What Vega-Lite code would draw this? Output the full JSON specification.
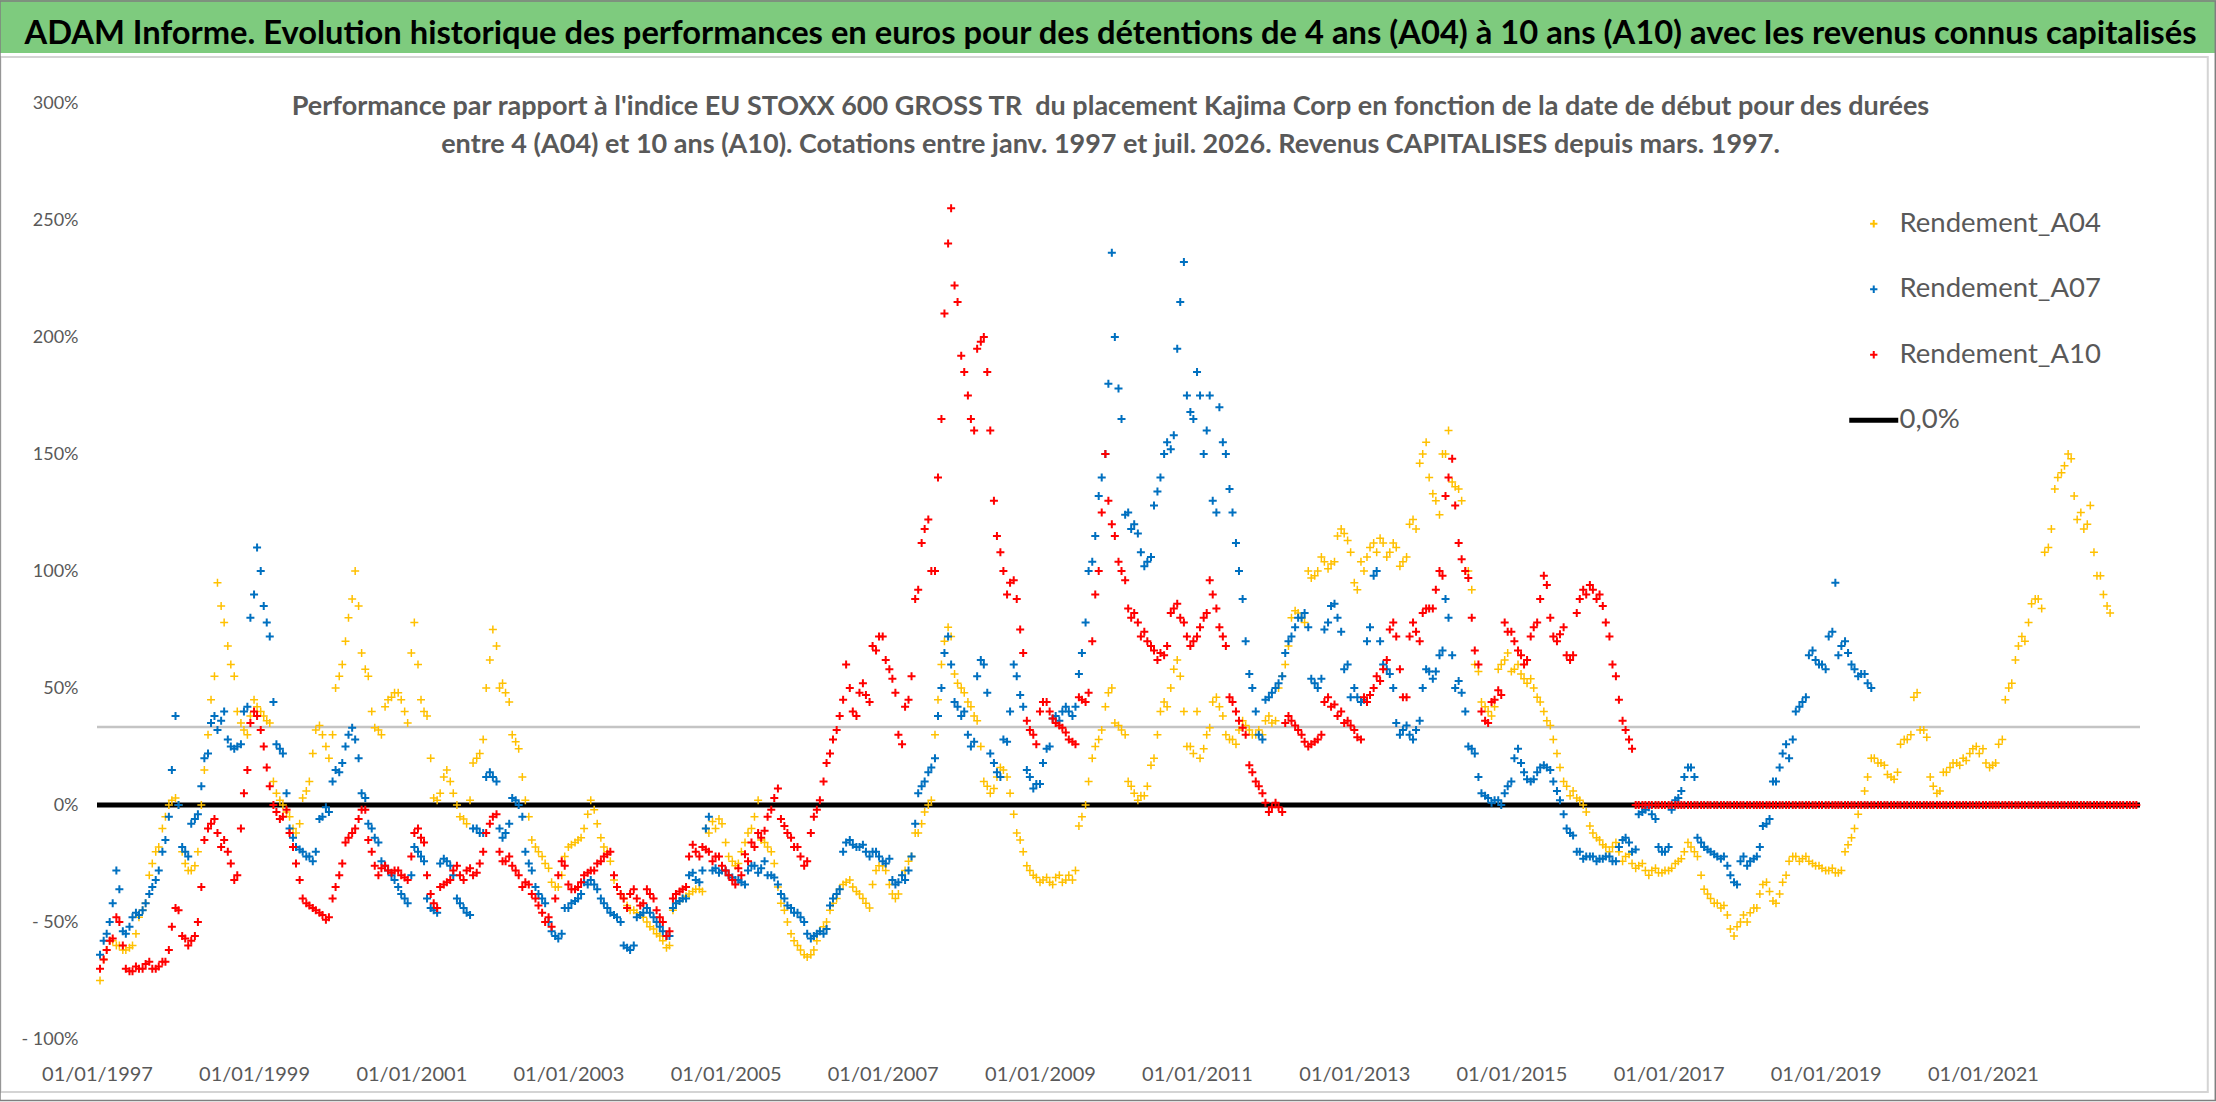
{
  "$schema": "https://vega.github.io/schema/vega-lite/v6.json",
  "width": 2043,
  "height": 936,
  "autosize": "none",
  "padding": {"left": 97, "top": 103, "right": 76, "bottom": 63},
  "background": "white",
  "config": {
    "view": {"stroke": null},
    "axis": {
      "labelFont": "Lato",
      "labelColor": "#595959",
      "gridColor": "#d9d9d9",
      "gridWidth": 1.5,
      "domain": false,
      "ticks": false,
      "title": null
    }
  },
  "title": {
    "text": "ADAM Informe. Evolution historique des performances en euros pour des détentions de 4 ans (A04) à 10 ans (A10) avec les revenus connus capitalisés",
    "subtitle": [
      "Performance par rapport à l'indice EU STOXX 600 GROSS TR \u00a0du placement Kajima Corp en fonction de la date de début pour des durées",
      "entre 4 (A04) et 10 ans (A10). Cotations entre janv. 1997 et juil. 2026. Revenus CAPITALISES depuis mars. 1997."
    ],
    "anchor": "middle",
    "frame": "group",
    "font": "Lato",
    "fontSize": 32.7,
    "fontWeight": "bold",
    "color": "#000000",
    "subtitleFont": "Lato",
    "subtitleFontSize": 27,
    "subtitleFontWeight": "bold",
    "subtitleColor": "#595959",
    "subtitleLineHeight": 38,
    "subtitlePadding": 43,
    "offset": -158,
    "dx": -8
  },
  "layer": [
    {
      "data": {"values": [{}]},
      "mark": {"type": "rule", "color": "#c4c4c4", "strokeWidth": 2.5},
      "encoding": {"y": {"datum": 33.3}}
    },
    {
      "data": {"values": [{}]},
      "mark": {"type": "rect", "color": "white"},
      "encoding": {
        "x": {"datum": {"year": 1999, "month": 6, "date": 5, "utc": true}},
        "x2": {"datum": {"year": 2020, "month": 3, "date": 10, "utc": true}},
        "y": {"datum": 271.5},
        "y2": {"datum": 303}
      }
    },
    {
      "data": {"values": [{}]},
      "mark": {"type": "rect", "color": "white"},
      "encoding": {
        "x": {"datum": {"year": 2018, "month": 10, "date": 6, "utc": true}},
        "x2": {"datum": {"year": 2023, "month": 1, "date": 6, "utc": true}},
        "y": {"datum": 151.3},
        "y2": {"datum": 262.4}
      }
    },
    {
      "data": {"values": [{}]},
      "mark": {"type": "rule", "color": "#000000", "strokeWidth": 5},
      "encoding": {"y": {"datum": 0}}
    },
    {
      "data": {
        "values": [
          {"d": "1997-01-15", "a04": -75, "a07": -64, "a10": -70},
          {"d": "1997-02-15", "a04": -62, "a07": -55, "a10": -62},
          {"d": "1997-03-15", "a04": -58, "a07": -42, "a10": -57},
          {"d": "1997-04-15", "a04": -60, "a07": -36, "a10": -50},
          {"d": "1997-05-15", "a04": -62, "a07": -55, "a10": -70},
          {"d": "1997-06-15", "a04": -60, "a07": -48, "a10": -71},
          {"d": "1997-07-15", "a04": -48, "a07": -47, "a10": -70},
          {"d": "1997-08-15", "a04": -42, "a07": -42, "a10": -68},
          {"d": "1997-09-15", "a04": -25, "a07": -35, "a10": -70},
          {"d": "1997-10-15", "a04": -18, "a07": -28, "a10": -69},
          {"d": "1997-11-15", "a04": -5, "a07": -15, "a10": -67},
          {"d": "1997-12-15", "a04": 2, "a07": 15, "a10": -52},
          {"d": "1998-01-15", "a04": 0, "a07": 0, "a10": -45},
          {"d": "1998-02-15", "a04": -25, "a07": -20, "a10": -57},
          {"d": "1998-03-15", "a04": -28, "a07": -8, "a10": -58},
          {"d": "1998-04-15", "a04": -20, "a07": -4, "a10": -50},
          {"d": "1998-05-15", "a04": 15, "a07": 20, "a10": -15},
          {"d": "1998-06-15", "a04": 45, "a07": 35, "a10": -8},
          {"d": "1998-07-15", "a04": 95, "a07": 32, "a10": -12},
          {"d": "1998-08-15", "a04": 78, "a07": 40, "a10": -15},
          {"d": "1998-09-15", "a04": 60, "a07": 25, "a10": -25},
          {"d": "1998-10-15", "a04": 40, "a07": 25, "a10": -30},
          {"d": "1998-11-15", "a04": 32, "a07": 40, "a10": 5},
          {"d": "1998-12-15", "a04": 38, "a07": 80, "a10": 35},
          {"d": "1999-01-15", "a04": 42, "a07": 110, "a10": 38},
          {"d": "1999-02-15", "a04": 38, "a07": 85, "a10": 25},
          {"d": "1999-03-15", "a04": 35, "a07": 72, "a10": 8},
          {"d": "1999-04-15", "a04": 5, "a07": 26, "a10": -3},
          {"d": "1999-05-15", "a04": 0, "a07": 22, "a10": -5},
          {"d": "1999-06-15", "a04": -5, "a07": -10, "a10": -12},
          {"d": "1999-07-15", "a04": -12, "a07": -18, "a10": -25},
          {"d": "1999-08-15", "a04": 3, "a07": -20, "a10": -40},
          {"d": "1999-09-15", "a04": 10, "a07": -22, "a10": -43},
          {"d": "1999-10-15", "a04": 32, "a07": -20, "a10": -45},
          {"d": "1999-11-15", "a04": 30, "a07": -5, "a10": -47},
          {"d": "1999-12-15", "a04": 20, "a07": -3, "a10": -48},
          {"d": "2000-01-15", "a04": 50, "a07": 15, "a10": -35},
          {"d": "2000-02-15", "a04": 60, "a07": 18, "a10": -25},
          {"d": "2000-03-15", "a04": 80, "a07": 30, "a10": -14},
          {"d": "2000-04-15", "a04": 100, "a07": 28, "a10": -10},
          {"d": "2000-05-15", "a04": 65, "a07": 5, "a10": -2},
          {"d": "2000-06-15", "a04": 55, "a07": -8, "a10": -15},
          {"d": "2000-07-15", "a04": 33, "a07": -14, "a10": -26},
          {"d": "2000-08-15", "a04": 30, "a07": -24, "a10": -27},
          {"d": "2000-09-15", "a04": 45, "a07": -28, "a10": -28},
          {"d": "2000-10-15", "a04": 48, "a07": -32, "a10": -28},
          {"d": "2000-11-15", "a04": 45, "a07": -38, "a10": -30},
          {"d": "2000-12-15", "a04": 35, "a07": -42, "a10": -32},
          {"d": "2001-01-15", "a04": 78, "a07": -18, "a10": -12},
          {"d": "2001-02-15", "a04": 45, "a07": -22, "a10": -14},
          {"d": "2001-03-15", "a04": 38, "a07": -40, "a10": -30},
          {"d": "2001-04-15", "a04": 3, "a07": -45, "a10": -42},
          {"d": "2001-05-15", "a04": 5, "a07": -25, "a10": -35},
          {"d": "2001-06-15", "a04": 15, "a07": -24, "a10": -33},
          {"d": "2001-07-15", "a04": 5, "a07": -30, "a10": -28},
          {"d": "2001-08-15", "a04": -5, "a07": -42, "a10": -30},
          {"d": "2001-09-15", "a04": -8, "a07": -46, "a10": -28},
          {"d": "2001-10-15", "a04": 18, "a07": -10, "a10": -30},
          {"d": "2001-11-15", "a04": 22, "a07": -12, "a10": -25},
          {"d": "2001-12-15", "a04": 50, "a07": 12, "a10": -12},
          {"d": "2002-01-15", "a04": 75, "a07": 12, "a10": -5},
          {"d": "2002-02-15", "a04": 50, "a07": -10, "a10": -20},
          {"d": "2002-03-15", "a04": 48, "a07": -12, "a10": -24},
          {"d": "2002-04-15", "a04": 30, "a07": 3, "a10": -26},
          {"d": "2002-05-15", "a04": 24, "a07": 0, "a10": -30},
          {"d": "2002-06-15", "a04": 2, "a07": -20, "a10": -33},
          {"d": "2002-07-15", "a04": -15, "a07": -28, "a10": -38},
          {"d": "2002-08-15", "a04": -20, "a07": -38, "a10": -43},
          {"d": "2002-09-15", "a04": -25, "a07": -42, "a10": -50},
          {"d": "2002-10-15", "a04": -33, "a07": -54, "a10": -52},
          {"d": "2002-11-15", "a04": -35, "a07": -57, "a10": -30},
          {"d": "2002-12-15", "a04": -22, "a07": -44, "a10": -26},
          {"d": "2003-01-15", "a04": -17, "a07": -42, "a10": -36},
          {"d": "2003-02-15", "a04": -15, "a07": -40, "a10": -35},
          {"d": "2003-03-15", "a04": -10, "a07": -33, "a10": -30},
          {"d": "2003-04-15", "a04": 2, "a07": -32, "a10": -28},
          {"d": "2003-05-15", "a04": -8, "a07": -36, "a10": -25},
          {"d": "2003-06-15", "a04": -18, "a07": -42, "a10": -22},
          {"d": "2003-07-15", "a04": -24, "a07": -46, "a10": -20},
          {"d": "2003-08-15", "a04": -35, "a07": -48, "a10": -35},
          {"d": "2003-09-15", "a04": -40, "a07": -60, "a10": -40},
          {"d": "2003-10-15", "a04": -45, "a07": -62, "a10": -38},
          {"d": "2003-11-15", "a04": -46, "a07": -48, "a10": -40},
          {"d": "2003-12-15", "a04": -48, "a07": -46, "a10": -42},
          {"d": "2004-01-15", "a04": -52, "a07": -46, "a10": -38},
          {"d": "2004-02-15", "a04": -55, "a07": -50, "a10": -45},
          {"d": "2004-03-15", "a04": -58, "a07": -54, "a10": -50},
          {"d": "2004-04-15", "a04": -60, "a07": -56, "a10": -54},
          {"d": "2004-05-15", "a04": -42, "a07": -42, "a10": -38},
          {"d": "2004-06-15", "a04": -40, "a07": -40, "a10": -36},
          {"d": "2004-07-15", "a04": -38, "a07": -30, "a10": -22},
          {"d": "2004-08-15", "a04": -36, "a07": -32, "a10": -20},
          {"d": "2004-09-15", "a04": -37, "a07": -28, "a10": -18},
          {"d": "2004-10-15", "a04": -12, "a07": -5, "a10": -20},
          {"d": "2004-11-15", "a04": -10, "a07": -27, "a10": -22},
          {"d": "2004-12-15", "a04": -8, "a07": -28, "a10": -26},
          {"d": "2005-01-15", "a04": -22, "a07": -30, "a10": -30},
          {"d": "2005-02-15", "a04": -26, "a07": -32, "a10": -34},
          {"d": "2005-03-15", "a04": -20, "a07": -33, "a10": -30},
          {"d": "2005-04-15", "a04": -12, "a07": -28, "a10": -24},
          {"d": "2005-05-15", "a04": -5, "a07": -26, "a10": -18},
          {"d": "2005-06-15", "a04": -15, "a07": -27, "a10": -14},
          {"d": "2005-07-15", "a04": -18, "a07": -30, "a10": -5},
          {"d": "2005-08-15", "a04": -25, "a07": -31, "a10": 3},
          {"d": "2005-09-15", "a04": -42, "a07": -38, "a10": -6},
          {"d": "2005-10-15", "a04": -50, "a07": -43, "a10": -12},
          {"d": "2005-11-15", "a04": -58, "a07": -46, "a10": -18},
          {"d": "2005-12-15", "a04": -62, "a07": -48, "a10": -22},
          {"d": "2006-01-15", "a04": -65, "a07": -55, "a10": -24},
          {"d": "2006-02-15", "a04": -62, "a07": -56, "a10": -5},
          {"d": "2006-03-15", "a04": -54, "a07": -54, "a10": 2},
          {"d": "2006-04-15", "a04": -50, "a07": -53, "a10": 18},
          {"d": "2006-05-15", "a04": -42, "a07": -40, "a10": 28},
          {"d": "2006-06-15", "a04": -36, "a07": -36, "a10": 38},
          {"d": "2006-07-15", "a04": -33, "a07": -16, "a10": 60},
          {"d": "2006-08-15", "a04": -35, "a07": -17, "a10": 40},
          {"d": "2006-09-15", "a04": -38, "a07": -18, "a10": 48},
          {"d": "2006-10-15", "a04": -42, "a07": -20, "a10": 47},
          {"d": "2006-11-15", "a04": -34, "a07": -20, "a10": 68},
          {"d": "2006-12-15", "a04": -26, "a07": -22, "a10": 72},
          {"d": "2007-01-15", "a04": -28, "a07": -25, "a10": 62},
          {"d": "2007-02-15", "a04": -38, "a07": -32, "a10": 54},
          {"d": "2007-03-15", "a04": -38, "a07": -33, "a10": 30},
          {"d": "2007-04-15", "a04": -28, "a07": -32, "a10": 42},
          {"d": "2007-05-15", "a04": -22, "a07": -22, "a10": 55},
          {"d": "2007-06-15", "a04": -12, "a07": 5, "a10": 92},
          {"d": "2007-07-15", "a04": -3, "a07": 10, "a10": 118},
          {"d": "2007-08-15", "a04": 2, "a07": 16, "a10": 100},
          {"d": "2007-09-15", "a04": 45, "a07": 38, "a10": 140},
          {"d": "2007-10-15", "a04": 70, "a07": 65, "a10": 210},
          {"d": "2007-11-15", "a04": 72, "a07": 60, "a10": 255},
          {"d": "2007-12-15", "a04": 52, "a07": 42, "a10": 215},
          {"d": "2008-01-15", "a04": 48, "a07": 40, "a10": 185},
          {"d": "2008-02-15", "a04": 42, "a07": 25, "a10": 165},
          {"d": "2008-03-15", "a04": 36, "a07": 55, "a10": 195},
          {"d": "2008-04-15", "a04": 10, "a07": 60, "a10": 200},
          {"d": "2008-05-15", "a04": 5, "a07": 22, "a10": 160},
          {"d": "2008-06-15", "a04": 12, "a07": 14, "a10": 115},
          {"d": "2008-07-15", "a04": 15, "a07": 28, "a10": 100},
          {"d": "2008-08-15", "a04": 5, "a07": 40, "a10": 95},
          {"d": "2008-09-15", "a04": -12, "a07": 55, "a10": 88},
          {"d": "2008-10-15", "a04": -20, "a07": 42, "a10": 65},
          {"d": "2008-11-15", "a04": -28, "a07": 12, "a10": 32},
          {"d": "2008-12-15", "a04": -31, "a07": 9, "a10": 26},
          {"d": "2009-01-15", "a04": -32, "a07": 18, "a10": 44},
          {"d": "2009-02-15", "a04": -33, "a07": 25, "a10": 40},
          {"d": "2009-03-15", "a04": -31, "a07": 38, "a10": 35},
          {"d": "2009-04-15", "a04": -33, "a07": 40, "a10": 33},
          {"d": "2009-05-15", "a04": -30, "a07": 40, "a10": 28},
          {"d": "2009-06-15", "a04": -28, "a07": 42, "a10": 26},
          {"d": "2009-07-15", "a04": -5, "a07": 65, "a10": 45},
          {"d": "2009-08-15", "a04": 10, "a07": 100, "a10": 48},
          {"d": "2009-09-15", "a04": 25, "a07": 115, "a10": 90},
          {"d": "2009-10-15", "a04": 32, "a07": 140, "a10": 125},
          {"d": "2009-11-15", "a04": 48, "a07": 180, "a10": 130},
          {"d": "2009-12-15", "a04": 35, "a07": 200, "a10": 115},
          {"d": "2010-01-15", "a04": 32, "a07": 165, "a10": 100},
          {"d": "2010-02-15", "a04": 10, "a07": 125, "a10": 84},
          {"d": "2010-03-15", "a04": 5, "a07": 120, "a10": 82},
          {"d": "2010-04-15", "a04": 4, "a07": 108, "a10": 72},
          {"d": "2010-05-15", "a04": 8, "a07": 104, "a10": 70},
          {"d": "2010-06-15", "a04": 20, "a07": 128, "a10": 66},
          {"d": "2010-07-15", "a04": 40, "a07": 140, "a10": 65},
          {"d": "2010-08-15", "a04": 42, "a07": 155, "a10": 68},
          {"d": "2010-09-15", "a04": 58, "a07": 158, "a10": 84},
          {"d": "2010-10-15", "a04": 55, "a07": 215, "a10": 80},
          {"d": "2010-11-15", "a04": 25, "a07": 175, "a10": 72},
          {"d": "2010-12-15", "a04": 22, "a07": 165, "a10": 70},
          {"d": "2011-01-15", "a04": 20, "a07": 175, "a10": 76},
          {"d": "2011-02-15", "a04": 30, "a07": 160, "a10": 82},
          {"d": "2011-03-15", "a04": 44, "a07": 130, "a10": 90},
          {"d": "2011-04-15", "a04": 42, "a07": 170, "a10": 76},
          {"d": "2011-05-15", "a04": 30, "a07": 150, "a10": 68},
          {"d": "2011-06-15", "a04": 28, "a07": 125, "a10": 44},
          {"d": "2011-07-15", "a04": 32, "a07": 100, "a10": 36},
          {"d": "2011-08-15", "a04": 34, "a07": 70, "a10": 30},
          {"d": "2011-09-15", "a04": 30, "a07": 50, "a10": 14},
          {"d": "2011-10-15", "a04": 32, "a07": 30, "a10": 8},
          {"d": "2011-11-15", "a04": 36, "a07": 45, "a10": 1},
          {"d": "2011-12-15", "a04": 35, "a07": 48, "a10": -1},
          {"d": "2012-01-15", "a04": 50, "a07": 52, "a10": -1},
          {"d": "2012-02-15", "a04": 60, "a07": 65, "a10": 35},
          {"d": "2012-03-15", "a04": 80, "a07": 72, "a10": 36},
          {"d": "2012-04-15", "a04": 82, "a07": 80, "a10": 32},
          {"d": "2012-05-15", "a04": 78, "a07": 82, "a10": 27},
          {"d": "2012-06-15", "a04": 97, "a07": 54, "a10": 26},
          {"d": "2012-07-15", "a04": 100, "a07": 50, "a10": 28},
          {"d": "2012-08-15", "a04": 104, "a07": 75, "a10": 44},
          {"d": "2012-09-15", "a04": 103, "a07": 85, "a10": 42},
          {"d": "2012-10-15", "a04": 115, "a07": 80, "a10": 38},
          {"d": "2012-11-15", "a04": 116, "a07": 58, "a10": 35},
          {"d": "2012-12-15", "a04": 108, "a07": 46, "a10": 34},
          {"d": "2013-01-15", "a04": 92, "a07": 46, "a10": 29},
          {"d": "2013-02-15", "a04": 100, "a07": 45, "a10": 46},
          {"d": "2013-03-15", "a04": 110, "a07": 76, "a10": 47},
          {"d": "2013-04-15", "a04": 108, "a07": 100, "a10": 55},
          {"d": "2013-05-15", "a04": 112, "a07": 60, "a10": 58},
          {"d": "2013-06-15", "a04": 108, "a07": 56, "a10": 75},
          {"d": "2013-07-15", "a04": 110, "a07": 35, "a10": 72},
          {"d": "2013-08-15", "a04": 104, "a07": 32, "a10": 46},
          {"d": "2013-09-15", "a04": 120, "a07": 30, "a10": 72},
          {"d": "2013-10-15", "a04": 118, "a07": 32, "a10": 74},
          {"d": "2013-11-15", "a04": 150, "a07": 50, "a10": 82},
          {"d": "2013-12-15", "a04": 140, "a07": 57, "a10": 84},
          {"d": "2014-01-15", "a04": 130, "a07": 57, "a10": 92},
          {"d": "2014-02-15", "a04": 150, "a07": 66, "a10": 98},
          {"d": "2014-03-15", "a04": 160, "a07": 80, "a10": 140},
          {"d": "2014-04-15", "a04": 136, "a07": 50, "a10": 128},
          {"d": "2014-05-15", "a04": 130, "a07": 48, "a10": 105},
          {"d": "2014-06-15", "a04": 100, "a07": 25, "a10": 97},
          {"d": "2014-07-15", "a04": 60, "a07": 22, "a10": 66},
          {"d": "2014-08-15", "a04": 44, "a07": 5, "a10": 40},
          {"d": "2014-09-15", "a04": 40, "a07": 3, "a10": 35},
          {"d": "2014-10-15", "a04": 42, "a07": 2, "a10": 45},
          {"d": "2014-11-15", "a04": 60, "a07": 0, "a10": 47},
          {"d": "2014-12-15", "a04": 65, "a07": 8, "a10": 74},
          {"d": "2015-01-15", "a04": 58, "a07": 20, "a10": 70},
          {"d": "2015-02-15", "a04": 56, "a07": 18, "a10": 64},
          {"d": "2015-03-15", "a04": 52, "a07": 11, "a10": 62},
          {"d": "2015-04-15", "a04": 50, "a07": 11, "a10": 76},
          {"d": "2015-05-15", "a04": 44, "a07": 16, "a10": 88},
          {"d": "2015-06-15", "a04": 36, "a07": 16, "a10": 94},
          {"d": "2015-07-15", "a04": 28, "a07": 10, "a10": 72},
          {"d": "2015-08-15", "a04": 16, "a07": 2, "a10": 73},
          {"d": "2015-09-15", "a04": 8, "a07": -10, "a10": 64},
          {"d": "2015-10-15", "a04": 6, "a07": -13, "a10": 64},
          {"d": "2015-11-15", "a04": 2, "a07": -20, "a10": 88},
          {"d": "2015-12-15", "a04": -3, "a07": -22, "a10": 90},
          {"d": "2016-01-15", "a04": -12, "a07": -22, "a10": 92},
          {"d": "2016-02-15", "a04": -15, "a07": -23, "a10": 90},
          {"d": "2016-03-15", "a04": -18, "a07": -22, "a10": 78},
          {"d": "2016-04-15", "a04": -18, "a07": -24, "a10": 60},
          {"d": "2016-05-15", "a04": -20, "a07": -18, "a10": 45},
          {"d": "2016-06-15", "a04": -22, "a07": -14, "a10": 32},
          {"d": "2016-07-15", "a04": -25, "a07": -20, "a10": 24},
          {"d": "2016-08-15", "a04": -26, "a07": -4, "a10": 0},
          {"d": "2016-09-15", "a04": -28, "a07": -2, "a10": 0},
          {"d": "2016-10-15", "a04": -28, "a07": -4, "a10": 0},
          {"d": "2016-11-15", "a04": -29, "a07": -18, "a10": 0},
          {"d": "2016-12-15", "a04": -28, "a07": -20, "a10": 0},
          {"d": "2017-01-15", "a04": -27, "a07": -2, "a10": 0},
          {"d": "2017-02-15", "a04": -24, "a07": 3, "a10": 0},
          {"d": "2017-03-15", "a04": -20, "a07": 12, "a10": 0},
          {"d": "2017-04-15", "a04": -18, "a07": 16, "a10": 0},
          {"d": "2017-05-15", "a04": -22, "a07": -14, "a10": 0},
          {"d": "2017-06-15", "a04": -36, "a07": -18, "a10": 0},
          {"d": "2017-07-15", "a04": -40, "a07": -20, "a10": 0},
          {"d": "2017-08-15", "a04": -42, "a07": -22, "a10": 0},
          {"d": "2017-09-15", "a04": -43, "a07": -22, "a10": 0},
          {"d": "2017-10-15", "a04": -53, "a07": -30, "a10": 0},
          {"d": "2017-11-15", "a04": -52, "a07": -34, "a10": 0},
          {"d": "2017-12-15", "a04": -47, "a07": -22, "a10": 0},
          {"d": "2018-01-15", "a04": -46, "a07": -24, "a10": 0},
          {"d": "2018-02-15", "a04": -44, "a07": -22, "a10": 0},
          {"d": "2018-03-15", "a04": -34, "a07": -9, "a10": 0},
          {"d": "2018-04-15", "a04": -37, "a07": -6, "a10": 0},
          {"d": "2018-05-15", "a04": -42, "a07": 10, "a10": 0},
          {"d": "2018-06-15", "a04": -33, "a07": 22, "a10": 0},
          {"d": "2018-07-15", "a04": -24, "a07": 20, "a10": 0},
          {"d": "2018-08-15", "a04": -22, "a07": 40, "a10": 0},
          {"d": "2018-09-15", "a04": -23, "a07": 44, "a10": 0},
          {"d": "2018-10-15", "a04": -24, "a07": 64, "a10": 0},
          {"d": "2018-11-15", "a04": -26, "a07": 62, "a10": 0},
          {"d": "2018-12-15", "a04": -27, "a07": 60, "a10": 0},
          {"d": "2019-01-15", "a04": -28, "a07": 72, "a10": 0},
          {"d": "2019-02-15", "a04": -29, "a07": 95, "a10": 0},
          {"d": "2019-03-15", "a04": -28, "a07": 68, "a10": 0},
          {"d": "2019-04-15", "a04": -17, "a07": 65, "a10": 0},
          {"d": "2019-05-15", "a04": -10, "a07": 58, "a10": 0},
          {"d": "2019-06-15", "a04": 0, "a07": 56, "a10": 0},
          {"d": "2019-07-15", "a04": 12, "a07": 52, "a10": 0},
          {"d": "2019-08-15", "a04": 20, "a10": 0},
          {"d": "2019-09-15", "a04": 18, "a10": 0},
          {"d": "2019-10-15", "a04": 13, "a10": 0},
          {"d": "2019-11-15", "a04": 11, "a10": 0},
          {"d": "2019-12-15", "a04": 26, "a10": 0},
          {"d": "2020-01-15", "a04": 28, "a10": 0},
          {"d": "2020-02-15", "a04": 46, "a10": 0},
          {"d": "2020-03-15", "a04": 32, "a10": 0},
          {"d": "2020-04-15", "a04": 29, "a10": 0},
          {"d": "2020-05-15", "a04": 8, "a10": 0},
          {"d": "2020-06-15", "a04": 6, "a10": 0},
          {"d": "2020-07-15", "a04": 14, "a10": 0},
          {"d": "2020-08-15", "a04": 18, "a10": 0},
          {"d": "2020-09-15", "a04": 17, "a10": 0},
          {"d": "2020-10-15", "a04": 19, "a10": 0},
          {"d": "2020-11-15", "a04": 24, "a10": 0},
          {"d": "2020-12-15", "a04": 22, "a10": 0},
          {"d": "2021-01-15", "a04": 18, "a10": 0},
          {"d": "2021-02-15", "a04": 17, "a10": 0},
          {"d": "2021-03-15", "a04": 26, "a10": 0},
          {"d": "2021-04-15", "a04": 45, "a10": 0},
          {"d": "2021-05-15", "a04": 52, "a10": 0},
          {"d": "2021-06-15", "a04": 68, "a10": 0},
          {"d": "2021-07-15", "a04": 70, "a10": 0},
          {"d": "2021-08-15", "a04": 86, "a10": 0},
          {"d": "2021-09-15", "a04": 88, "a10": 0},
          {"d": "2021-10-15", "a04": 108, "a10": 0},
          {"d": "2021-11-15", "a04": 118, "a10": 0},
          {"d": "2021-12-15", "a04": 140, "a10": 0},
          {"d": "2022-01-15", "a04": 145, "a10": 0},
          {"d": "2022-02-15", "a04": 148, "a10": 0},
          {"d": "2022-03-15", "a04": 122, "a10": 0},
          {"d": "2022-04-15", "a04": 118, "a10": 0},
          {"d": "2022-05-15", "a04": 128, "a10": 0},
          {"d": "2022-06-15", "a04": 98, "a10": 0},
          {"d": "2022-07-15", "a04": 90, "a10": 0},
          {"d": "2022-08-15", "a04": 82, "a10": 0},
          {"d": "2022-09-15", "a10": 0},
          {"d": "2022-10-15", "a10": 0},
          {"d": "2022-11-15", "a10": 0},
          {"d": "2022-12-15", "a10": 0},
          {"d": "1997-02-01", "a04": -66, "a07": -58, "a10": -66},
          {"d": "1997-03-01", "a04": -58, "a07": -50, "a10": -58},
          {"d": "1997-04-01", "a04": -60, "a07": -28, "a10": -48},
          {"d": "1997-05-01", "a04": -62, "a07": -54, "a10": -60},
          {"d": "1997-06-01", "a04": -61, "a07": -52, "a10": -71},
          {"d": "1997-07-01", "a04": -55, "a07": -46, "a10": -69},
          {"d": "1997-08-01", "a04": -45, "a07": -45, "a10": -70},
          {"d": "1997-09-01", "a04": -30, "a07": -38, "a10": -67},
          {"d": "1997-10-01", "a04": -20, "a07": -32, "a10": -70},
          {"d": "1997-11-01", "a04": -10, "a07": -20, "a10": -67},
          {"d": "1997-12-01", "a04": 0, "a07": -5, "a10": -62},
          {"d": "1998-01-01", "a04": 3, "a07": 38, "a10": -44},
          {"d": "1998-02-01", "a04": -20, "a07": -18, "a10": -56},
          {"d": "1998-03-01", "a04": -28, "a07": -22, "a10": -60},
          {"d": "1998-04-01", "a04": -26, "a07": -6, "a10": -56},
          {"d": "1998-05-01", "a04": 0, "a07": 8, "a10": -35},
          {"d": "1998-06-01", "a04": 30, "a07": 22, "a10": -10},
          {"d": "1998-07-01", "a04": 55, "a07": 38, "a10": -6},
          {"d": "1998-08-01", "a04": 85, "a07": 36, "a10": -18},
          {"d": "1998-09-01", "a04": 68, "a07": 28, "a10": -20},
          {"d": "1998-10-01", "a04": 55, "a07": 24, "a10": -32},
          {"d": "1998-11-01", "a04": 35, "a07": 26, "a10": -10},
          {"d": "1998-12-01", "a04": 30, "a07": 42, "a10": 15},
          {"d": "1999-01-01", "a04": 45, "a07": 90, "a10": 40},
          {"d": "1999-02-01", "a04": 40, "a07": 100, "a10": 32},
          {"d": "1999-03-01", "a04": 36, "a07": 78, "a10": 16},
          {"d": "1999-04-01", "a04": 10, "a07": 44, "a10": 0},
          {"d": "1999-05-01", "a04": 2, "a07": 24, "a10": -6},
          {"d": "1999-06-01", "a04": -3, "a07": 5, "a10": -2},
          {"d": "1999-07-01", "a04": -10, "a07": -14, "a10": -18},
          {"d": "1999-08-01", "a04": -8, "a07": -19, "a10": -32},
          {"d": "1999-09-01", "a04": 6, "a07": -22, "a10": -42},
          {"d": "1999-10-01", "a04": 22, "a07": -24, "a10": -44},
          {"d": "1999-11-01", "a04": 34, "a07": -6, "a10": -46},
          {"d": "1999-12-01", "a04": 25, "a07": -1, "a10": -49},
          {"d": "2000-01-01", "a04": 30, "a07": 10, "a10": -40},
          {"d": "2000-02-01", "a04": 55, "a07": 14, "a10": -30},
          {"d": "2000-03-01", "a04": 70, "a07": 25, "a10": -16},
          {"d": "2000-04-01", "a04": 88, "a07": 33, "a10": -12},
          {"d": "2000-05-01", "a04": 85, "a07": 20, "a10": -6},
          {"d": "2000-06-01", "a04": 58, "a07": 3, "a10": -2},
          {"d": "2000-07-01", "a04": 40, "a07": -10, "a10": -20},
          {"d": "2000-08-01", "a04": 32, "a07": -16, "a10": -30},
          {"d": "2000-09-01", "a04": 42, "a07": -26, "a10": -26},
          {"d": "2000-10-01", "a04": 46, "a07": -30, "a10": -29},
          {"d": "2000-11-01", "a04": 48, "a07": -35, "a10": -28},
          {"d": "2000-12-01", "a04": 40, "a07": -40, "a10": -31},
          {"d": "2001-01-01", "a04": 65, "a07": -30, "a10": -22},
          {"d": "2001-02-01", "a04": 60, "a07": -20, "a10": -10},
          {"d": "2001-03-01", "a04": 40, "a07": -24, "a10": -16},
          {"d": "2001-04-01", "a04": 20, "a07": -44, "a10": -38},
          {"d": "2001-05-01", "a04": 2, "a07": -46, "a10": -44},
          {"d": "2001-06-01", "a04": 12, "a07": -23, "a10": -34},
          {"d": "2001-07-01", "a04": 10, "a07": -26, "a10": -32},
          {"d": "2001-08-01", "a04": 0, "a07": -40, "a10": -26},
          {"d": "2001-09-01", "a04": -6, "a07": -44, "a10": -32},
          {"d": "2001-10-01", "a04": 2, "a07": -47, "a10": -27},
          {"d": "2001-11-01", "a04": 20, "a07": -10, "a10": -29},
          {"d": "2001-12-01", "a04": 28, "a07": -12, "a10": -20},
          {"d": "2002-01-01", "a04": 62, "a07": 14, "a10": -8},
          {"d": "2002-02-01", "a04": 68, "a07": 10, "a10": -4},
          {"d": "2002-03-01", "a04": 52, "a07": -14, "a10": -24},
          {"d": "2002-04-01", "a04": 44, "a07": -8, "a10": -22},
          {"d": "2002-05-01", "a04": 27, "a07": 2, "a10": -28},
          {"d": "2002-06-01", "a04": 12, "a07": -5, "a10": -35},
          {"d": "2002-07-01", "a04": -5, "a07": -25, "a10": -34},
          {"d": "2002-08-01", "a04": -18, "a07": -35, "a10": -40},
          {"d": "2002-09-01", "a04": -22, "a07": -40, "a10": -46},
          {"d": "2002-10-01", "a04": -27, "a07": -50, "a10": -48},
          {"d": "2002-11-01", "a04": -35, "a07": -56, "a10": -40},
          {"d": "2002-12-01", "a04": -30, "a07": -55, "a10": -24},
          {"d": "2003-01-01", "a04": -18, "a07": -44, "a10": -34},
          {"d": "2003-02-01", "a04": -16, "a07": -41, "a10": -36},
          {"d": "2003-03-01", "a04": -14, "a07": -38, "a10": -33},
          {"d": "2003-04-01", "a04": -4, "a07": -34, "a10": -29},
          {"d": "2003-05-01", "a04": -2, "a07": -34, "a10": -28},
          {"d": "2003-06-01", "a04": -14, "a07": -40, "a10": -24},
          {"d": "2003-07-01", "a04": -20, "a07": -44, "a10": -21},
          {"d": "2003-08-01", "a04": -32, "a07": -47, "a10": -30},
          {"d": "2003-09-01", "a04": -38, "a07": -50, "a10": -38},
          {"d": "2003-10-01", "a04": -43, "a07": -61, "a10": -44},
          {"d": "2003-11-01", "a04": -45, "a07": -60, "a10": -36},
          {"d": "2003-12-01", "a04": -47, "a07": -47, "a10": -43},
          {"d": "2004-01-01", "a04": -50, "a07": -44, "a10": -36},
          {"d": "2004-02-01", "a04": -53, "a07": -48, "a10": -40},
          {"d": "2004-03-01", "a04": -56, "a07": -52, "a10": -48},
          {"d": "2004-04-01", "a04": -61, "a07": -56, "a10": -56},
          {"d": "2004-05-01", "a04": -45, "a07": -44, "a10": -40},
          {"d": "2004-06-01", "a04": -41, "a07": -41, "a10": -37},
          {"d": "2004-07-01", "a04": -39, "a07": -40, "a10": -35},
          {"d": "2004-08-01", "a04": -37, "a07": -29, "a10": -17},
          {"d": "2004-09-01", "a04": -36, "a07": -33, "a10": -22},
          {"d": "2004-10-01", "a04": -10, "a07": -10, "a10": -19},
          {"d": "2004-11-01", "a04": -7, "a07": -28, "a10": -24},
          {"d": "2004-12-01", "a04": -6, "a07": -29, "a10": -22},
          {"d": "2005-01-01", "a04": -16, "a07": -28, "a10": -28},
          {"d": "2005-02-01", "a04": -24, "a07": -31, "a10": -32},
          {"d": "2005-03-01", "a04": -25, "a07": -32, "a10": -27},
          {"d": "2005-04-01", "a04": -16, "a07": -34, "a10": -21},
          {"d": "2005-05-01", "a04": -10, "a07": -26, "a10": -16},
          {"d": "2005-06-01", "a04": 2, "a07": -29, "a10": -12},
          {"d": "2005-07-01", "a04": -16, "a07": -24, "a10": -11},
          {"d": "2005-08-01", "a04": -20, "a07": -30, "a10": -2},
          {"d": "2005-09-01", "a04": -35, "a07": -34, "a10": 7},
          {"d": "2005-10-01", "a04": -45, "a07": -40, "a10": -9},
          {"d": "2005-11-01", "a04": -55, "a07": -44, "a10": -14},
          {"d": "2005-12-01", "a04": -60, "a07": -46, "a10": -18},
          {"d": "2006-01-01", "a04": -64, "a07": -50, "a10": -26},
          {"d": "2006-02-01", "a04": -64, "a07": -57, "a10": -12},
          {"d": "2006-03-01", "a04": -58, "a07": -55, "a10": -2},
          {"d": "2006-04-01", "a04": -52, "a07": -55, "a10": 10},
          {"d": "2006-05-01", "a04": -45, "a07": -43, "a10": 22},
          {"d": "2006-06-01", "a04": -40, "a07": -38, "a10": 32},
          {"d": "2006-07-01", "a04": -34, "a07": -20, "a10": 45},
          {"d": "2006-08-01", "a04": -32, "a07": -15, "a10": 50},
          {"d": "2006-09-01", "a04": -37, "a07": -18, "a10": 38},
          {"d": "2006-10-01", "a04": -40, "a07": -17, "a10": 52},
          {"d": "2006-11-01", "a04": -44, "a07": -22, "a10": 44},
          {"d": "2006-12-01", "a04": -28, "a07": -20, "a10": 66},
          {"d": "2007-01-01", "a04": -26, "a07": -24, "a10": 72},
          {"d": "2007-02-01", "a04": -34, "a07": -23, "a10": 58},
          {"d": "2007-03-01", "a04": -40, "a07": -34, "a10": 48},
          {"d": "2007-04-01", "a04": -30, "a07": -30, "a10": 26},
          {"d": "2007-05-01", "a04": -24, "a07": -28, "a10": 45},
          {"d": "2007-06-01", "a04": -12, "a07": -8, "a10": 88},
          {"d": "2007-07-01", "a04": -8, "a07": 8, "a10": 112},
          {"d": "2007-08-01", "a04": 0, "a07": 14, "a10": 122},
          {"d": "2007-09-01", "a04": 30, "a07": 20, "a10": 100},
          {"d": "2007-10-01", "a04": 60, "a07": 50, "a10": 165},
          {"d": "2007-11-01", "a04": 76, "a07": 72, "a10": 240},
          {"d": "2007-12-01", "a04": 56, "a07": 44, "a10": 222},
          {"d": "2008-01-01", "a04": 50, "a07": 38, "a10": 192},
          {"d": "2008-02-01", "a04": 44, "a07": 30, "a10": 175},
          {"d": "2008-03-01", "a04": 38, "a07": 27, "a10": 160},
          {"d": "2008-04-01", "a04": 25, "a07": 62, "a10": 198},
          {"d": "2008-05-01", "a04": 8, "a07": 48, "a10": 185},
          {"d": "2008-06-01", "a04": 7, "a07": 18, "a10": 130},
          {"d": "2008-07-01", "a04": 16, "a07": 12, "a10": 108},
          {"d": "2008-08-01", "a04": 12, "a07": 27, "a10": 90},
          {"d": "2008-09-01", "a04": -4, "a07": 60, "a10": 96},
          {"d": "2008-10-01", "a04": -15, "a07": 47, "a10": 75},
          {"d": "2008-11-01", "a04": -26, "a07": 15, "a10": 36},
          {"d": "2008-12-01", "a04": -30, "a07": 7, "a10": 30},
          {"d": "2009-01-01", "a04": -33, "a07": 9, "a10": 40},
          {"d": "2009-02-01", "a04": -31, "a07": 24, "a10": 44},
          {"d": "2009-03-01", "a04": -34, "a07": 37, "a10": 37},
          {"d": "2009-04-01", "a04": -30, "a07": 36, "a10": 34},
          {"d": "2009-05-01", "a04": -32, "a07": 42, "a10": 31},
          {"d": "2009-06-01", "a04": -32, "a07": 38, "a10": 27},
          {"d": "2009-07-01", "a04": -9, "a07": 56, "a10": 46},
          {"d": "2009-08-01", "a04": 0, "a07": 78, "a10": 44},
          {"d": "2009-09-01", "a04": 20, "a07": 104, "a10": 70},
          {"d": "2009-10-01", "a04": 28, "a07": 132, "a10": 100},
          {"d": "2009-11-01", "a04": 42, "a07": 150, "a10": 150},
          {"d": "2009-12-01", "a04": 50, "a07": 236, "a10": 120},
          {"d": "2010-01-01", "a04": 34, "a07": 178, "a10": 104},
          {"d": "2010-02-01", "a04": 30, "a07": 124, "a10": 96},
          {"d": "2010-03-01", "a04": 8, "a07": 118, "a10": 80},
          {"d": "2010-04-01", "a04": 2, "a07": 116, "a10": 78},
          {"d": "2010-05-01", "a04": 4, "a07": 102, "a10": 74},
          {"d": "2010-06-01", "a04": 17, "a07": 106, "a10": 68},
          {"d": "2010-07-01", "a04": 30, "a07": 134, "a10": 62},
          {"d": "2010-08-01", "a04": 44, "a07": 150, "a10": 64},
          {"d": "2010-09-01", "a04": 50, "a07": 152, "a10": 82},
          {"d": "2010-10-01", "a04": 62, "a07": 195, "a10": 86},
          {"d": "2010-11-01", "a04": 40, "a07": 232, "a10": 78},
          {"d": "2010-12-01", "a04": 25, "a07": 168, "a10": 68},
          {"d": "2011-01-01", "a04": 40, "a07": 185, "a10": 72},
          {"d": "2011-02-01", "a04": 24, "a07": 150, "a10": 80},
          {"d": "2011-03-01", "a04": 33, "a07": 175, "a10": 96},
          {"d": "2011-04-01", "a04": 46, "a07": 125, "a10": 84},
          {"d": "2011-05-01", "a04": 38, "a07": 155, "a10": 72},
          {"d": "2011-06-01", "a04": 28, "a07": 135, "a10": 46},
          {"d": "2011-07-01", "a04": 26, "a07": 112, "a10": 40},
          {"d": "2011-08-01", "a04": 36, "a07": 88, "a10": 33},
          {"d": "2011-09-01", "a04": 32, "a07": 56, "a10": 17},
          {"d": "2011-10-01", "a04": 30, "a07": 40, "a10": 10},
          {"d": "2011-11-01", "a04": 30, "a07": 28, "a10": 5},
          {"d": "2011-12-01", "a04": 38, "a07": 46, "a10": -3},
          {"d": "2012-01-01", "a04": 36, "a07": 50, "a10": 1},
          {"d": "2012-02-01", "a04": 55, "a07": 55, "a10": -3},
          {"d": "2012-03-01", "a04": 68, "a07": 70, "a10": 38},
          {"d": "2012-04-01", "a04": 83, "a07": 76, "a10": 34},
          {"d": "2012-05-01", "a04": 80, "a07": 80, "a10": 30},
          {"d": "2012-06-01", "a04": 100, "a07": 76, "a10": 25},
          {"d": "2012-07-01", "a04": 98, "a07": 52, "a10": 27},
          {"d": "2012-08-01", "a04": 106, "a07": 54, "a10": 30},
          {"d": "2012-09-01", "a04": 101, "a07": 78, "a10": 46},
          {"d": "2012-10-01", "a04": 104, "a07": 86, "a10": 43},
          {"d": "2012-11-01", "a04": 118, "a07": 74, "a10": 40},
          {"d": "2012-12-01", "a04": 113, "a07": 60, "a10": 36},
          {"d": "2013-01-01", "a04": 95, "a07": 50, "a10": 32},
          {"d": "2013-02-01", "a04": 104, "a07": 44, "a10": 28},
          {"d": "2013-03-01", "a04": 106, "a07": 70, "a10": 44},
          {"d": "2013-04-01", "a04": 112, "a07": 98, "a10": 50},
          {"d": "2013-05-01", "a04": 114, "a07": 70, "a10": 53},
          {"d": "2013-06-01", "a04": 106, "a07": 58, "a10": 62},
          {"d": "2013-07-01", "a04": 112, "a07": 50, "a10": 78},
          {"d": "2013-08-01", "a04": 102, "a07": 30, "a10": 58},
          {"d": "2013-09-01", "a04": 106, "a07": 34, "a10": 46},
          {"d": "2013-10-01", "a04": 122, "a07": 28, "a10": 78},
          {"d": "2013-11-01", "a04": 146, "a07": 36, "a10": 70},
          {"d": "2013-12-01", "a04": 155, "a07": 58, "a10": 84},
          {"d": "2014-01-01", "a04": 133, "a07": 54, "a10": 84},
          {"d": "2014-02-01", "a04": 124, "a07": 64, "a10": 100},
          {"d": "2014-03-01", "a04": 150, "a07": 88, "a10": 132},
          {"d": "2014-04-01", "a04": 138, "a07": 64, "a10": 148},
          {"d": "2014-05-01", "a04": 135, "a07": 53, "a10": 112},
          {"d": "2014-06-01", "a04": 100, "a07": 40, "a10": 100},
          {"d": "2014-07-01", "a04": 92, "a07": 24, "a10": 80},
          {"d": "2014-08-01", "a04": 57, "a07": 12, "a10": 60},
          {"d": "2014-09-01", "a04": 42, "a07": 4, "a10": 36},
          {"d": "2014-10-01", "a04": 38, "a07": 1, "a10": 44},
          {"d": "2014-11-01", "a04": 58, "a07": 2, "a10": 49},
          {"d": "2014-12-01", "a04": 62, "a07": 5, "a10": 78},
          {"d": "2015-01-01", "a04": 57, "a07": 10, "a10": 74},
          {"d": "2015-02-01", "a04": 60, "a07": 24, "a10": 66},
          {"d": "2015-03-01", "a04": 54, "a07": 14, "a10": 60},
          {"d": "2015-04-01", "a04": 54, "a07": 10, "a10": 72},
          {"d": "2015-05-01", "a04": 46, "a07": 14, "a10": 78},
          {"d": "2015-06-01", "a04": 40, "a07": 17, "a10": 98},
          {"d": "2015-07-01", "a04": 34, "a07": 15, "a10": 80},
          {"d": "2015-08-01", "a04": 22, "a07": 6, "a10": 70},
          {"d": "2015-09-01", "a04": 10, "a07": -4, "a10": 76},
          {"d": "2015-10-01", "a04": 4, "a07": -12, "a10": 62},
          {"d": "2015-11-01", "a04": 3, "a07": -20, "a10": 82},
          {"d": "2015-12-01", "a04": 0, "a07": -23, "a10": 92},
          {"d": "2016-01-01", "a04": -9, "a07": -22, "a10": 94},
          {"d": "2016-02-01", "a04": -14, "a07": -24, "a10": 88},
          {"d": "2016-03-01", "a04": -17, "a07": -23, "a10": 85},
          {"d": "2016-04-01", "a04": -20, "a07": -22, "a10": 72},
          {"d": "2016-05-01", "a04": -16, "a07": -24, "a10": 55},
          {"d": "2016-06-01", "a04": -24, "a07": -15, "a10": 36},
          {"d": "2016-07-01", "a04": -21, "a07": -16, "a10": 28},
          {"d": "2016-08-01", "a04": -27, "a07": -19, "a10": 0},
          {"d": "2016-09-01", "a04": -25, "a07": -3, "a10": 0},
          {"d": "2016-10-01", "a04": -30, "a07": -1, "a10": 0},
          {"d": "2016-11-01", "a04": -27, "a07": -6, "a10": 0},
          {"d": "2016-12-01", "a04": -29, "a07": -20, "a10": 0},
          {"d": "2017-01-01", "a04": -28, "a07": -18, "a10": 0},
          {"d": "2017-02-01", "a04": -25, "a07": 2, "a10": 0},
          {"d": "2017-03-01", "a04": -23, "a07": 6, "a10": 0},
          {"d": "2017-04-01", "a04": -16, "a07": 16, "a10": 0},
          {"d": "2017-05-01", "a04": -20, "a07": 12, "a10": 0},
          {"d": "2017-06-01", "a04": -30, "a07": -16, "a10": 0},
          {"d": "2017-07-01", "a04": -38, "a07": -19, "a10": 0},
          {"d": "2017-08-01", "a04": -42, "a07": -21, "a10": 0},
          {"d": "2017-09-01", "a04": -44, "a07": -23, "a10": 0},
          {"d": "2017-10-01", "a04": -47, "a07": -26, "a10": 0},
          {"d": "2017-11-01", "a04": -56, "a07": -33, "a10": 0},
          {"d": "2017-12-01", "a04": -50, "a07": -24, "a10": 0},
          {"d": "2018-01-01", "a04": -50, "a07": -26, "a10": 0},
          {"d": "2018-02-01", "a04": -44, "a07": -23, "a10": 0},
          {"d": "2018-03-01", "a04": -38, "a07": -18, "a10": 0},
          {"d": "2018-04-01", "a04": -33, "a07": -8, "a10": 0},
          {"d": "2018-05-01", "a04": -41, "a07": 10, "a10": 0},
          {"d": "2018-06-01", "a04": -38, "a07": 16, "a10": 0},
          {"d": "2018-07-01", "a04": -30, "a07": 26, "a10": 0},
          {"d": "2018-08-01", "a04": -22, "a07": 28, "a10": 0},
          {"d": "2018-09-01", "a04": -24, "a07": 42, "a10": 0},
          {"d": "2018-10-01", "a04": -22, "a07": 46, "a10": 0},
          {"d": "2018-11-01", "a04": -25, "a07": 66, "a10": 0},
          {"d": "2018-12-01", "a04": -26, "a07": 60, "a10": 0},
          {"d": "2019-01-01", "a04": -28, "a07": 58, "a10": 0},
          {"d": "2019-02-01", "a04": -27, "a07": 74, "a10": 0},
          {"d": "2019-03-01", "a04": -29, "a07": 64, "a10": 0},
          {"d": "2019-04-01", "a04": -20, "a07": 70, "a10": 0},
          {"d": "2019-05-01", "a04": -14, "a07": 60, "a10": 0},
          {"d": "2019-06-01", "a04": -4, "a07": 55, "a10": 0},
          {"d": "2019-07-01", "a04": 6, "a07": 56, "a10": 0},
          {"d": "2019-08-01", "a04": 20, "a07": 50, "a10": 0},
          {"d": "2019-09-01", "a04": 18, "a10": 0},
          {"d": "2019-10-01", "a04": 17, "a10": 0},
          {"d": "2019-11-01", "a04": 12, "a10": 0},
          {"d": "2019-12-01", "a04": 14, "a10": 0},
          {"d": "2020-01-01", "a04": 28, "a10": 0},
          {"d": "2020-02-01", "a04": 30, "a10": 0},
          {"d": "2020-03-01", "a04": 48, "a10": 0},
          {"d": "2020-04-01", "a04": 32, "a10": 0},
          {"d": "2020-05-01", "a04": 12, "a10": 0},
          {"d": "2020-06-01", "a04": 5, "a10": 0},
          {"d": "2020-07-01", "a04": 14, "a10": 0},
          {"d": "2020-08-01", "a04": 16, "a10": 0},
          {"d": "2020-09-01", "a04": 18, "a10": 0},
          {"d": "2020-10-01", "a04": 20, "a10": 0},
          {"d": "2020-11-01", "a04": 22, "a10": 0},
          {"d": "2020-12-01", "a04": 25, "a10": 0},
          {"d": "2021-01-01", "a04": 24, "a10": 0},
          {"d": "2021-02-01", "a04": 16, "a10": 0},
          {"d": "2021-03-01", "a04": 18, "a10": 0},
          {"d": "2021-04-01", "a04": 28, "a10": 0},
          {"d": "2021-05-01", "a04": 50, "a10": 0},
          {"d": "2021-06-01", "a04": 62, "a10": 0},
          {"d": "2021-07-01", "a04": 72, "a10": 0},
          {"d": "2021-08-01", "a04": 78, "a10": 0},
          {"d": "2021-09-01", "a04": 88, "a10": 0},
          {"d": "2021-10-01", "a04": 84, "a10": 0},
          {"d": "2021-11-01", "a04": 110, "a10": 0},
          {"d": "2021-12-01", "a04": 135, "a10": 0},
          {"d": "2022-01-01", "a04": 142, "a10": 0},
          {"d": "2022-02-01", "a04": 150, "a10": 0},
          {"d": "2022-03-01", "a04": 132, "a10": 0},
          {"d": "2022-04-01", "a04": 125, "a10": 0},
          {"d": "2022-05-01", "a04": 120, "a10": 0},
          {"d": "2022-06-01", "a04": 108, "a10": 0},
          {"d": "2022-07-01", "a04": 98, "a10": 0},
          {"d": "2022-08-01", "a04": 85, "a10": 0},
          {"d": "2022-09-01", "a10": 0},
          {"d": "2022-10-01", "a10": 0},
          {"d": "2022-11-01", "a10": 0},
          {"d": "2022-12-01", "a10": 0}
        ]
      },
      "transform": [
        {"fold": ["a04", "a07", "a10"], "as": ["k", "v"]},
        {"filter": "isValid(datum.v)"}
      ],
      "mark": {"type": "point", "shape": "M-1,0H1M0,-1V1", "filled": false, "size": 64, "opacity": 1},
      "encoding": {
        "x": {
          "field": "d",
          "type": "temporal",
          "scale": {
            "type": "utc",
            "domain": [
              {"year": 1997, "month": 1, "date": 1, "utc": true},
              {"year": 2023, "month": 1, "date": 1, "utc": true}
            ]
          },
          "axis": {
            "values": [
              {"year": 1997, "month": 1, "date": 1, "utc": true},
              {"year": 1999, "month": 1, "date": 1, "utc": true},
              {"year": 2001, "month": 1, "date": 1, "utc": true},
              {"year": 2003, "month": 1, "date": 1, "utc": true},
              {"year": 2005, "month": 1, "date": 1, "utc": true},
              {"year": 2007, "month": 1, "date": 1, "utc": true},
              {"year": 2009, "month": 1, "date": 1, "utc": true},
              {"year": 2011, "month": 1, "date": 1, "utc": true},
              {"year": 2013, "month": 1, "date": 1, "utc": true},
              {"year": 2015, "month": 1, "date": 1, "utc": true},
              {"year": 2017, "month": 1, "date": 1, "utc": true},
              {"year": 2019, "month": 1, "date": 1, "utc": true},
              {"year": 2021, "month": 1, "date": 1, "utc": true}
            ],
            "labelExpr": "utcFormat(datum.value, '%d/%m/%Y')",
            "labelFlush": false,
            "labelOverlap": false,
            "labelFontSize": 20,
            "labelPadding": 25
          }
        },
        "y": {
          "field": "v",
          "type": "quantitative",
          "scale": {"domain": [-100, 300], "nice": false},
          "axis": {
            "values": [-100, -50, 0, 50, 100, 150, 200, 250, 300],
            "labelExpr": "datum.value < 0 ? '- ' + (-datum.value) + '%' : datum.value + '%'",
            "labelFontSize": 18,
            "labelPadding": 19
          }
        },
        "color": {
          "field": "k",
          "type": "nominal",
          "scale": {
            "domain": ["a04", "a07", "a10", "z"],
            "range": ["#FFC000", "#0070C0", "#FF0000", "#000000"]
          },
          "legend": {
            "orient": "none",
            "legendX": 1763,
            "legendY": 107,
            "title": null,
            "padding": 0,
            "symbolSize": 2401,
            "symbolStrokeWidth": 2,
            "labelFont": "Lato",
            "labelFontSize": 27.5,
            "labelColor": "#595959",
            "labelLimit": 0,
            "labelOffset": 12,
            "rowPadding": 36.5,
            "labelExpr": "datum.value === 'a04' ? 'Rendement_A04' : datum.value === 'a07' ? 'Rendement_A07' : datum.value === 'a10' ? 'Rendement_A10' : '0,0%'",
            "encoding": {
              "symbols": {
                "shape": {"value": {"expr": "datum.value === 'z' ? 'M-1,0H1' : 'M-0.15,0H0.15M0,-0.15V0.15'"}},
                "strokeWidth": {"value": {"expr": "datum.value === 'z' ? 5 : 2"}},
                "fill": {"value": "transparent"}
              }
            }
          }
        },
        "strokeWidth": {
          "condition": {"test": "datum.k === 'a04'", "value": 1.5},
          "value": 2
        },
        "order": {"field": "k"}
      }
    },
    {
      "data": {"values": [{}]},
      "mark": {"type": "rect", "color": "#7ecb7e"},
      "encoding": {
        "x": {"datum": {"year": 1995, "month": 6, "date": 1, "utc": true}},
        "x2": {"datum": {"year": 2024, "month": 6, "date": 1, "utc": true}},
        "y": {"datum": 321.4},
        "y2": {"datum": 344}
      }
    },
    {
      "data": {"values": [{}]},
      "mark": {"type": "rect", "filled": false, "stroke": "#d4d4d4", "strokeWidth": 2},
      "encoding": {
        "x": {"datum": {"year": 1995, "month": 10, "date": 10, "utc": true}},
        "x2": {"datum": {"year": 2023, "month": 11, "date": 12, "utc": true}},
        "y": {"datum": -122.7},
        "y2": {"datum": 319.7}
      }
    },
    {
      "data": {"values": [{}]},
      "mark": {"type": "rect", "filled": false, "stroke": "#7f7f7f", "strokeWidth": 1.5},
      "encoding": {
        "x": {"datum": {"year": 1995, "month": 10, "date": 8, "utc": true}},
        "x2": {"datum": {"year": 2023, "month": 12, "date": 17, "utc": true}},
        "y": {"datum": -126.3},
        "y2": {"datum": 343.6}
      }
    }
  ]
}
